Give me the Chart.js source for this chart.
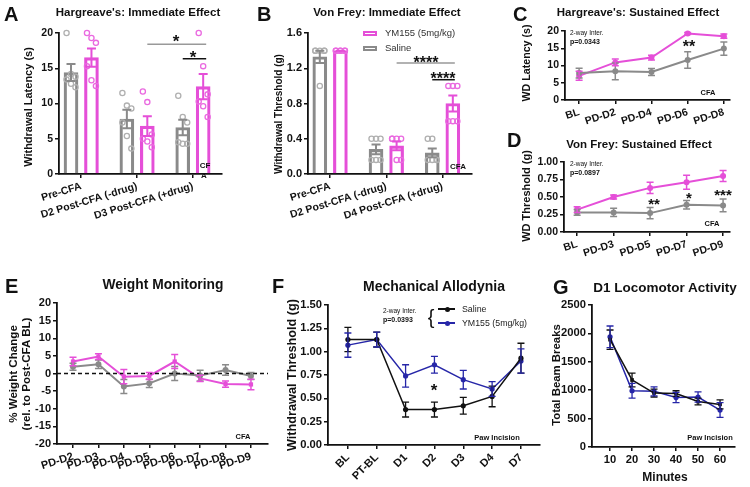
<!DOCTYPE html>
<html><head><meta charset="utf-8">
<script src="https://cdn.jsdelivr.net/npm/chart.js@4.4.1/dist/chart.umd.min.js"></script>
<style>
html,body{margin:0;padding:0;background:#fff;}
body{width:750px;height:487px;position:relative;overflow:hidden;font-family:"Liberation Sans",Arial,Helvetica,sans-serif;}
canvas{position:absolute;}
.t{position:absolute;white-space:nowrap;color:#111;line-height:1.15;}
.sw{position:absolute;box-sizing:border-box;}
</style></head><body>
<script>
// ================= DATA =================
// A: Hargreave's immediate effect
const catsA = ['Pre-CFA', 'D2 Post-CFA (-drug)', 'D3 Post-CFA (+drug)'];
const salineA = [14.4, 7.8, 6.6];
const salineA_sem = [1.2, 1.3, 1.1];
const ym155A = [16.5, 6.8, 12.4];
const ym155A_sem = [1.3, 1.4, 1.8];
const salineA_pts = [[20, 14.2, 13.8, 13.4, 12.8, 12.3], [11.5, 9.7, 9.3, 7.3, 5.4, 3.6], [11.1, 8.1, 7.3, 4.5, 4.3, 4.3]];
const ym155A_pts = [[20, 19.3, 18.6, 15.3, 13.3, 12.5], [11.7, 10.2, 5.6, 5.0, 4.6, 3.8], [20, 15.3, 11.3, 10.3, 9.6, 8.1]];
const yTicksA = [0, 5, 10, 15, 20];

// B: Von Frey immediate effect
const catsB = ['Pre-CFA', 'D2 Post-CFA (-drug)', 'D4 Post-CFA (+drug)'];
const salineB = [1.33, 0.28, 0.24];
const salineB_sem = [0.07, 0.055, 0.05];
const ym155B = [1.40, 0.32, 0.80];
const ym155B_sem = [0.0, 0.05, 0.09];
const salineB_pts = [[1.4, 1.4, 1.4, 1.4, 1.0, 1.4], [0.4, 0.4, 0.4, 0.16, 0.16, 0.16], [0.4, 0.4, 0.16, 0.16, 0.16, 0.16]];
const ym155B_pts = [[1.4, 1.4, 1.4, 1.4, 1.4, 1.4], [0.4, 0.4, 0.4, 0.4, 0.16, 0.16], [1.0, 1.0, 1.0, 0.6, 0.6, 0.6]];
const yTicksB = [0, 0.4, 0.8, 1.2, 1.6];

// C: Hargreave's sustained
const catsC = ['BL', 'PD-D2', 'PD-D4', 'PD-D6', 'PD-D8'];
const ym155C = [7.0, 10.9, 12.3, 19.3, 18.5];
const ym155C_sem = [1.3, 1.0, 0.7, 0.3, 0.6];
const salineC = [7.8, 8.3, 8.1, 11.6, 14.9];
const salineC_sem = [1.4, 2.4, 1.0, 2.4, 1.9];
const yTicksC = [0, 5, 10, 15, 20];

// D: Von Frey sustained
const catsD = ['BL', 'PD-D3', 'PD-D5', 'PD-D7', 'PD-D9'];
const ym155D = [0.32, 0.50, 0.63, 0.71, 0.80];
const ym155D_sem = [0.04, 0.03, 0.08, 0.10, 0.08];
const salineD = [0.28, 0.28, 0.27, 0.39, 0.38];
const salineD_sem = [0.04, 0.06, 0.08, 0.06, 0.09];
const yTicksD = [0, 0.25, 0.5, 0.75, 1.0];

// E: Weight monitoring
const catsE = ['PD-D2', 'PD-D3', 'PD-D4', 'PD-D5', 'PD-D6', 'PD-D7', 'PD-D8', 'PD-D9'];
const ym155E = [3.4, 4.8, -0.9, -0.7, 3.4, -1.4, -3.0, -3.1];
const ym155E_sem = [1.2, 0.8, 2.0, 1.0, 2.0, 0.9, 0.9, 1.5];
const salineE = [1.9, 2.6, -3.7, -2.8, 0.0, -0.6, 1.0, -0.7];
const salineE_sem = [1.0, 1.2, 2.0, 1.2, 2.0, 1.5, 1.5, 1.0];
const yTicksE = [-20, -15, -10, -5, 0, 5, 10, 15, 20];

// F: Mechanical allodynia
const catsF = ['BL', 'PT-BL', 'D1', 'D2', 'D3', 'D4', 'D7'];
const salineF = [1.13, 1.13, 0.38, 0.38, 0.42, 0.52, 0.93];
const salineF_sem = [0.13, 0.08, 0.08, 0.08, 0.09, 0.11, 0.16];
const ym155F = [1.07, 1.13, 0.74, 0.86, 0.70, 0.60, 0.90];
const ym155F_sem = [0.13, 0.08, 0.12, 0.09, 0.10, 0.08, 0.13];
const yTicksF = [0, 0.25, 0.5, 0.75, 1.0, 1.25, 1.5];

// G: Locomotor activity
const minutesG = [10, 20, 30, 40, 50, 60];
const salineG = [1890, 1180, 950, 940, 800, 750];
const salineG_sem = [170, 120, 70, 50, 60, 80];
const ym155G = [1940, 990, 980, 870, 880, 650];
const ym155G_sem = [190, 130, 80, 90, 90, 130];
const yTicksG = [0, 500, 1000, 1500, 2000, 2500];

// ================= STYLE / HELPERS =================
const FONT = '"Liberation Sans", Arial, Helvetica, sans-serif';
const PINK = '#e54fd8', GREY = '#8a8a8a', DOTGREY = '#b0b0b0', DOTPINK = '#ea6ae0', INK = '#111111', BLUE = '#2626a8';
const WY = 48, PT = 10, PR = 10, HX = 70;

function gridOpt() { return {display: true, offset: false, drawOnChartArea: false, drawTicks: true, tickLength: 4, color: INK, lineWidth: 1.5}; }
function borderOpt() { return {display: true, color: INK, width: 1.8}; }

function yAxis(ticks, fmt, size) {
  return {type: 'linear', min: ticks[0], max: ticks[ticks.length - 1],
    afterBuildTicks: s => { s.ticks = ticks.map(v => ({value: v})); },
    afterFit: s => { s.width = WY; },
    ticks: {color: INK, padding: 2, font: {family: FONT, size: size, weight: 'bold'}, callback: v => fmt(v)},
    grid: gridOpt(), border: borderOpt()};
}
function xAxis(labels, pos, min, max, rot, size) {
  return {type: 'linear', offset: false, min: min, max: max,
    afterBuildTicks: s => { s.ticks = pos.map(v => ({value: v})); },
    afterFit: s => { s.height = HX; },
    ticks: {color: INK, padding: 2, autoSkip: false, minRotation: rot, maxRotation: rot,
      font: {family: FONT, size: size, weight: 'bold'}, callback: v => labels[pos.indexOf(v)]},
    grid: gridOpt(), border: borderOpt()};
}
function panel(box, type, datasets, xs, ys, extra) {
  const cv = document.createElement('canvas');
  const L = box[0] - WY, T = box[1] - PT, W = box[2] + PR - L, H = box[3] + HX - T;
  cv.width = W; cv.height = H;
  cv.style.left = L + 'px'; cv.style.top = T + 'px'; cv.style.width = W + 'px'; cv.style.height = H + 'px';
  document.body.appendChild(cv);
  return new Chart(cv.getContext('2d'), {
    type: type, data: {datasets: datasets},
    options: {responsive: false, animation: false, devicePixelRatio: 1,
      layout: {padding: {left: 0, top: PT, right: PR, bottom: 0}},
      plugins: {legend: {display: false}, tooltip: {enabled: false}},
      scales: {x: xs, y: ys}},
    plugins: [{id: 'extras', afterDatasetsDraw(chart) {
      if (extra) extra(chart, chart.ctx, v => chart.scales.x.getPixelForValue(v), v => chart.scales.y.getPixelForValue(v));
    }}]
  });
}
function errBars(chart, ctx, ds, means, sems, color, cap, lw) {
  const meta = chart.getDatasetMeta(ds), ys = chart.scales.y;
  ctx.save(); ctx.strokeStyle = color; ctx.lineWidth = lw; ctx.beginPath();
  meta.data.forEach((el, i) => {
    const x = el.x, a = ys.getPixelForValue(means[i] + sems[i]), b = ys.getPixelForValue(means[i] - sems[i]);
    ctx.moveTo(x, a); ctx.lineTo(x, b);
    ctx.moveTo(x - cap, a); ctx.lineTo(x + cap, a);
    ctx.moveTo(x - cap, b); ctx.lineTo(x + cap, b);
  });
  ctx.stroke(); ctx.restore();
}
function hline(ctx, x1, x2, y, color, lw, dash) {
  ctx.save(); ctx.strokeStyle = color; ctx.lineWidth = lw; if (dash) ctx.setLineDash(dash);
  ctx.beginPath(); ctx.moveTo(x1, y); ctx.lineTo(x2, y); ctx.stroke(); ctx.restore();
}
// text
function T(str, x, y, size, o) {
  o = o || {};
  const d = document.createElement('div');
  d.className = 't'; d.textContent = str;
  d.style.left = x + 'px'; d.style.top = y + 'px'; d.style.fontSize = size + 'px';
  d.style.fontWeight = o.w || 'bold';
  if (o.color) d.style.color = o.color;
  const ax = o.align === 'left' ? '0' : (o.align === 'right' ? '-100%' : '-50%');
  d.style.transform = 'translate(' + ax + ',-50%)' + (o.rot ? ' rotate(' + o.rot + 'deg)' : '');
  if (o.center) d.style.textAlign = 'center';
  document.body.appendChild(d);
  return d;
}
function sw(x, y, w, h, css) {
  const d = document.createElement('div'); d.className = 'sw';
  d.style.left = x + 'px'; d.style.top = y + 'px'; d.style.width = w + 'px'; d.style.height = h + 'px';
  Object.assign(d.style, css); document.body.appendChild(d);
}

const f0 = v => String(v), f1 = v => v.toFixed(1), f2 = v => v.toFixed(2);

// ================= BAR PANELS (A, B) =================
const OFF = 0.183, JIT = [-0.08, 0, 0.08, -0.08, 0, 0.08];
const idx3 = [0, 1, 2];
function dotData(pts, off) { const out = []; pts.forEach((g, i) => g.forEach((v, j) => out.push({x: i + off + JIT[j], y: v}))); return out; }
function barSet(vals, off, color) {
  return {type: 'bar', data: vals.map((v, i) => ({x: i + off, y: v})), backgroundColor: 'rgba(255,255,255,0)',
    borderColor: color, borderWidth: 2.5, grouped: false, maxBarThickness: 14, barPercentage: 1, categoryPercentage: 1, order: 2};
}
function dotSet(pts, off, color) {
  return {type: 'scatter', data: dotData(pts, off), pointRadius: 2.6, pointBorderWidth: 1.3, clip: false,
    pointBorderColor: color, pointBackgroundColor: 'rgba(255,255,255,0)', showLine: false, order: 1};
}

panel([59, 33, 222, 174], 'bar',
  [barSet(salineA, -OFF, GREY), barSet(ym155A, OFF, PINK), dotSet(salineA_pts, -OFF, DOTGREY), dotSet(ym155A_pts, OFF, DOTPINK)],
  xAxis(catsA, idx3, -0.398, 2.52, 17, 10.5), yAxis(yTicksA, f0, 10.5),
  (chart, ctx, X, Y) => {
    errBars(chart, ctx, 0, salineA, salineA_sem, GREY, 4.5, 2);
    errBars(chart, ctx, 1, ym155A, ym155A_sem, PINK, 4.5, 2);
    hline(ctx, X(1 + OFF), X(2 + OFF) + 3, Y(18.4), '#999', 1.5);
    hline(ctx, X(2 - OFF), X(2 + OFF) + 3, Y(16.35), INK, 1.5);
  });

panel([308, 33, 472, 174], 'bar',
  [barSet(salineB, -OFF, GREY), barSet(ym155B, OFF, PINK), dotSet(salineB_pts, -OFF, DOTGREY), dotSet(ym155B_pts, OFF, DOTPINK)],
  xAxis(catsB, idx3, -0.393, 2.524, 17, 10.5), yAxis(yTicksB, f1, 11),
  (chart, ctx, X, Y) => {
    errBars(chart, ctx, 0, salineB, salineB_sem, GREY, 4.5, 2);
    errBars(chart, ctx, 1, ym155B, ym155B_sem, PINK, 4.5, 2);
    hline(ctx, X(1 + OFF), X(2 + OFF) + 2, Y(1.26), '#999', 1.5);
    hline(ctx, X(2 - OFF), X(2 + OFF) + 2, Y(1.07), INK, 1.5);
  });

// ================= LINE PANELS =================
function lineSet(vals, xs, color, lw, r, style) {
  return {type: 'line', data: vals.map((v, i) => ({x: xs[i], y: v})), borderColor: color, borderWidth: lw, clip: false,
    pointRadius: r, pointStyle: style || 'circle', pointBackgroundColor: color, pointBorderColor: color, pointBorderWidth: 0,
    tension: 0, fill: false};
}
const idx5 = [0, 1, 2, 3, 4], idx7 = [0, 1, 2, 3, 4, 5, 6], idx8 = [0, 1, 2, 3, 4, 5, 6, 7];

panel([565, 31, 730, 100], 'line',
  [lineSet(salineC, idx5, GREY, 2, 3), lineSet(ym155C, idx5, PINK, 2, 3)],
  xAxis(catsC, idx5, -0.39, 4.17, 18, 10.5), yAxis(yTicksC, f0, 10.5),
  (chart, ctx) => {
    errBars(chart, ctx, 0, salineC, salineC_sem, GREY, 3.5, 1.5);
    errBars(chart, ctx, 1, ym155C, ym155C_sem, PINK, 3.5, 1.5);
  });

panel([564, 162, 730, 232], 'line',
  [lineSet(salineD, idx5, GREY, 2, 3), lineSet(ym155D, idx5, PINK, 2, 3)],
  xAxis(catsD, idx5, -0.36, 4.19, 18, 10.5), yAxis(yTicksD, f2, 10.5),
  (chart, ctx) => {
    errBars(chart, ctx, 0, salineD, salineD_sem, GREY, 3.5, 1.5);
    errBars(chart, ctx, 1, ym155D, ym155D_sem, PINK, 3.5, 1.5);
  });

panel([57, 303, 268, 444], 'line',
  [lineSet(salineE, idx8, GREY, 2, 3), lineSet(ym155E, idx8, PINK, 2, 3, 'rect')],
  xAxis(catsE, idx8, -0.63, 7.67, 18, 11), yAxis(yTicksE, f0, 11),
  (chart, ctx, X, Y) => {
    hline(ctx, chart.chartArea.left, chart.chartArea.right, Y(0), INK, 1.5, [4, 3]);
    errBars(chart, ctx, 0, salineE, salineE_sem, GREY, 3.5, 1.5);
    errBars(chart, ctx, 1, ym155E, ym155E_sem, PINK, 3.5, 1.5);
  });

panel([328, 305, 540, 445], 'line',
  [lineSet(salineF, idx7, INK, 1.5, 2.6), lineSet(ym155F, idx7, BLUE, 1.5, 2.6)],
  xAxis(catsF, idx7, -0.69, 6.66, 45, 11), yAxis(yTicksF, f2, 11.2),
  (chart, ctx) => {
    errBars(chart, ctx, 0, salineF, salineF_sem, INK, 3.5, 1.3);
    errBars(chart, ctx, 1, ym155F, ym155F_sem, BLUE, 3.5, 1.3);
  });

panel([592, 305, 735, 447], 'line',
  [lineSet(salineG, minutesG, INK, 1.5, 2.6, 'rect'), lineSet(ym155G, minutesG, BLUE, 1.5, 2.6)],
  xAxis(minutesG.map(String), minutesG, 1.8, 66.8, 0, 11.2), yAxis(yTicksG, f0, 11.2),
  (chart, ctx) => {
    errBars(chart, ctx, 0, salineG, salineG_sem, INK, 3.5, 1.3);
    errBars(chart, ctx, 1, ym155G, ym155G_sem, BLUE, 3.5, 1.3);
  });

// ================= TEXT =================
// panel letters
[['A', 4, 14], ['B', 257, 14], ['C', 513, 14], ['D', 507, 140], ['E', 5, 286], ['F', 272, 286], ['G', 553, 287]]
  .forEach(a => T(a[0], a[1], a[2], 20, {align: 'left'}));
// titles
T("Hargreave's: Immediate Effect", 138, 13, 11.5);
T('Von Frey: Immediate Effect', 387, 13, 11.5);
T("Hargreave's: Sustained Effect", 638, 13, 11.5);
T('Von Frey: Sustained Effect', 639, 145, 11.5);
T('Weight Monitoring', 163, 285, 13.8);
T('Mechanical Allodynia', 434, 286, 14);
T('D1 Locomotor Activity', 665, 288, 13.5);
// axis titles
T('Withdrawal Latency (s)', 28, 107, 11, {rot: -90});
T('Withdrawal Threshold (g)', 279, 114, 10, {rot: -90});
T('WD Latency (s)', 526, 63, 10.7, {rot: -90});
T('WD Threshold (g)', 526, 196, 11, {rot: -90});
(function () {
  const d = T('', 19, 374, 11.6, {rot: -90, center: true});
  d.innerHTML = '% Weight Change<br>(rel. to Post-CFA BL)';
})();
T('Withdrawal Threshold (g)', 292, 375, 12.7, {rot: -90});
T('Total Beam Breaks', 557, 375, 11.4, {rot: -90});
T('Minutes', 665, 478, 12);
// annotations
T('CF', 205, 166, 8); T('A', 204, 176, 8);
T('CFA', 458, 167, 8);
T('CFA', 708, 93, 7.5);
T('CFA', 712, 224, 7.5);
T('CFA', 243, 437, 7.5);
T('Paw Incision', 497, 438, 7.5);
T('Paw Incision', 710, 438, 7.5);
T('2-way Inter.', 570, 33, 6.5, {align: 'left', w: 'normal'}); T('p=0.0343', 570, 42, 7, {align: 'left'});
T('2-way Inter.', 570, 164, 6.5, {align: 'left', w: 'normal'}); T('p=0.0897', 570, 173, 7, {align: 'left'});
T('2-way Inter.', 383, 311, 6.5, {align: 'left', w: 'normal'}); T('p=0.0393', 383, 320, 7, {align: 'left'});
T('{', 431, 317, 20, {w: 'normal'});
// significance stars (visual centre corrected)
const st = (s, x, y, z) => T(s, x, y + 0.26 * z, z);
st('*', 176, 38, 17); st('*', 193, 54, 17);
st('****', 426, 59, 16); st('****', 443, 75, 16);
st('**', 689, 43, 16);
st('**', 654, 200, 15); st('*', 689, 194, 15); st('***', 723, 191, 15);
st('*', 434, 387, 17);
// legends
sw(363, 31, 14, 5, {border: '2px solid ' + PINK}); T('YM155 (5mg/kg)', 385, 33, 9.5, {align: 'left', w: 'normal', color: '#333'});
sw(363, 46, 14, 5, {border: '2px solid ' + GREY}); T('Saline', 385, 48, 9.5, {align: 'left', w: 'normal', color: '#333'});
sw(438, 308.3, 17, 1.5, {background: INK}); sw(444.5, 306.5, 5, 5, {background: INK, borderRadius: '50%'});
T('Saline', 462, 309, 8.8, {align: 'left', w: 'normal', color: '#222'});
sw(438, 322.3, 17, 1.5, {background: BLUE}); sw(444.5, 320.5, 5, 5, {background: BLUE, borderRadius: '50%'});
T('YM155 (5mg/kg)', 462, 323, 8.8, {align: 'left', w: 'normal', color: '#222'});
</script>
</body></html>
